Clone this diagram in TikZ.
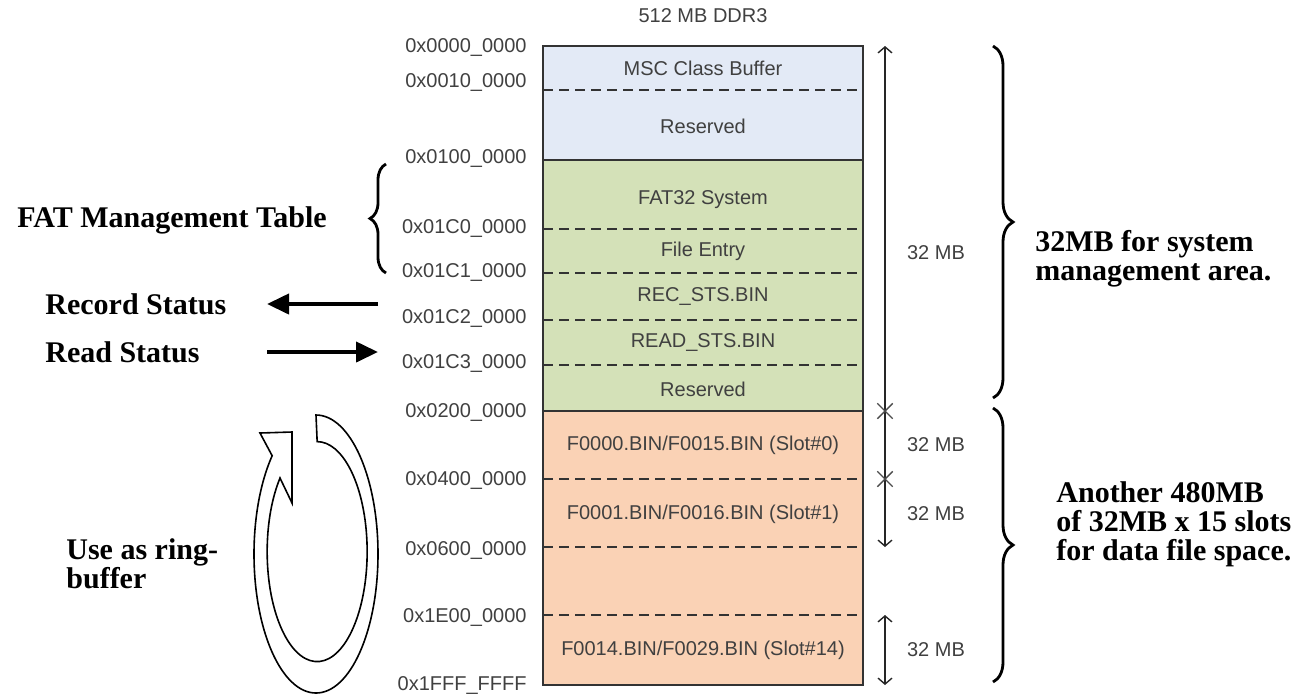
\documentclass[tikz,border=0pt]{standalone}
\usepackage{fontspec}
\setmainfont{Liberation Serif}
\newfontfamily\arialfont{Liberation Sans}
\usepackage{tikz}
\usetikzlibrary{arrows.meta}
\usetikzlibrary{decorations.pathreplacing}
\usetikzlibrary{shapes.misc}
\definecolor{sysblue}{HTML}{E3EAF6}
\definecolor{fatgreen}{HTML}{D4E1B8}
\definecolor{slotorange}{HTML}{FAD2B5}
\tikzset{
  addr/.style={font=\arialfont\fontsize{10}{12}\selectfont,text=black!75,anchor=east,inner sep=0pt},
  cell/.style={font=\arialfont\fontsize{10}{12}\selectfont,text=black!75,inner sep=0pt},
  note/.style={font=\bfseries\fontsize{15}{14.5}\selectfont,inner sep=0pt,align=left},
  sep/.style={dash pattern=on 5pt off 3pt,line width=0.7pt,black!80},
  dim/.style={line width=0.7pt,black!85},
  barb/.tip={Straight Barb[length=3pt,width=7pt]},
  xmark/.style={cross out,draw=black!70,line width=0.7pt,minimum size=7pt,inner sep=0pt},
  bigarrow/.style={line width=2pt,-{Triangle[length=11pt,width=10pt]}},
  bracket/.style={decorate,decoration={brace,amplitude=#1},line width=1.4pt}
}

\begin{document}
\begin{tikzpicture}[x=0.5pt,y=-0.5pt]
\useasboundingbox (0,0) rectangle (1311,693);
% memory blocks
\fill[sysblue] (543,46) rectangle (863,160);
\fill[fatgreen] (543,160) rectangle (863,411);
\fill[slotorange] (543,411) rectangle (863,685);
\foreach \y in {90,229,273,320,365,479,547,615}
  \draw[sep] (543,\y) -- (863,\y);
\draw[line width=1pt,black!80] (543,160) -- (863,160) (543,411) -- (863,411);
\draw[line width=1pt,black!80] (543,46) rectangle (863,685);
\node[cell] (ddr) at (703,16) {512 MB DDR3};
% contents
\node[cell] (msc) at (703,68) {MSC Class Buffer};
\node[cell] (res1) at (703,126) {Reserved};
\node[cell] (fat32) at (703,200) {FAT32 System};
\node[cell] (fentry) at (703,251) {File Entry};
\node[cell] (recsts) at (703,296) {REC\_STS.BIN};
\node[cell] (readsts) at (703,342) {READ\_STS.BIN};
\node[cell] (res2) at (703,389) {Reserved};
\node[cell] (slot0) at (703,445) {F0000.BIN/F0015.BIN (Slot\#0)};
\node[cell] (slot1) at (703,514) {F0001.BIN/F0016.BIN (Slot\#1)};
\node[cell] (slot14) at (703,650) {F0014.BIN/F0029.BIN (Slot\#14)};
% addresses
\node[addr] (a0000) at (527,47) {0x0000\_0000};
\node[addr] (a0010) at (527,82) {0x0010\_0000};
\node[addr] (a0100) at (527,158) {0x0100\_0000};
\node[addr] (a01c0) at (527,228) {0x01C0\_0000};
\node[addr] (a01c1) at (527,272) {0x01C1\_0000};
\node[addr] (a01c2) at (527,318) {0x01C2\_0000};
\node[addr] (a01c3) at (527,363) {0x01C3\_0000};
\node[addr] (a0200) at (527,412) {0x0200\_0000};
\node[addr] (a0400) at (527,480) {0x0400\_0000};
\node[addr] (a0600) at (527,550) {0x0600\_0000};
\node[addr] (a1e00) at (527,617) {0x1E00\_0000};
\node[addr] (a1fff) at (527,685) {0x1FFF\_FFFF};
% sizes
\coordinate (dtop) at (885,46);
\coordinate (dsys) at (885,411);
\coordinate (dslot) at (885,479);
\coordinate (dend) at (885,547);
\coordinate (dlast) at (885,615);
\coordinate (dbot) at (885,685);
\draw[dim,barb-barb] (dtop) -- (dend);
\draw[dim,barb-barb] (dlast) -- (dbot);
\node[xmark] (xsys) at (dsys) {};
\node[xmark] (xslot) at (dslot) {};
\node[cell] (mb1) at (936,253) {32 MB};
\node[cell] (mb2) at (936,445) {32 MB};
\node[cell] (mb3) at (936,514) {32 MB};
\node[cell] (mb4) at (936,650) {32 MB};
% braces and notes
\draw[bracket=10pt] (993,46) -- (993,398);
\draw[bracket=10pt] (993,408) -- (993,682);
\node[note,anchor=west] (sysnote) at (1035,259) {32MB for system\\management area.};
\node[note,anchor=west] (datanote) at (1056,524) {Another 480MB\\of 32MB x 15 slots\\for data file space.};
\draw[bracket=8pt] (386,273) -- (386,164);
\node[note] (fatnote) at (172,220) {FAT Management Table};
% status files
\node[note,anchor=west] (rec) at (45,304) {Record Status};
\node[note,anchor=west] (read) at (45,352) {Read Status};
\coordinate (recfrom) at (378,304);
\coordinate (recto) at (267,304);
\coordinate (readfrom) at (267,352);
\coordinate (readto) at (378,352);
\draw[bigarrow] (recfrom) -- (recto);
\draw[bigarrow] (readfrom) -- (readto);
% ring buffer
\node[note,anchor=west] (ring) at (66,564) {Use as ring-\\buffer};
\draw[line width=0.8pt,fill=white] (316,415) arc[start angle=270,end angle=585,x radius=62,y radius=139]
  -- (260,433) -- (292,432) -- (292,503) -- (280,478)
  arc[start angle=222,end angle=-90,x radius=50,y radius=110] -- cycle;
\end{tikzpicture}
\end{document}
